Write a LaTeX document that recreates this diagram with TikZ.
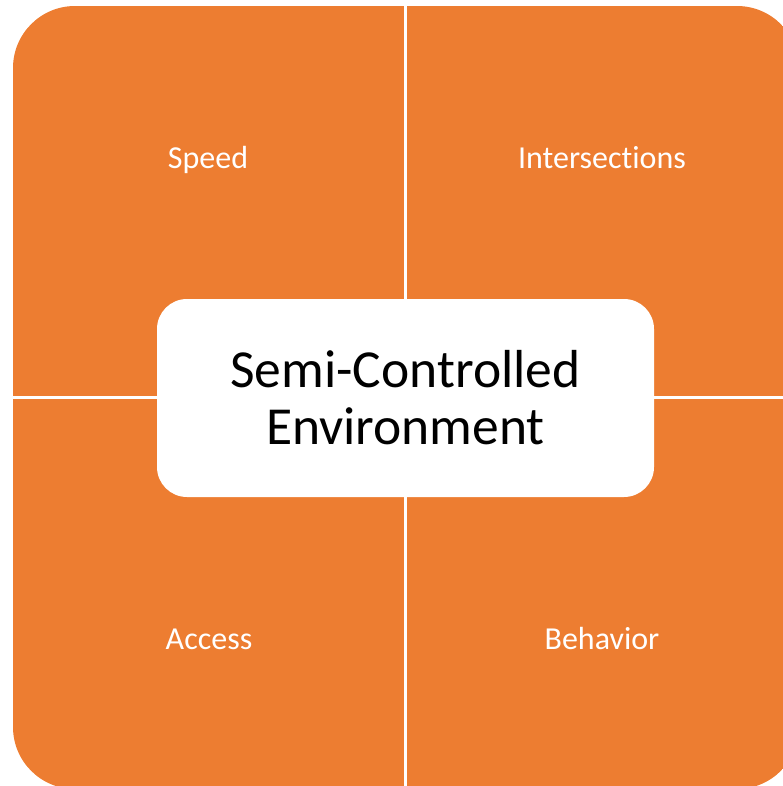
\documentclass[tikz,border=0pt]{standalone}
\usepackage{fontspec}
\setmainfont{Carlito}[Ligatures=NoCommon]
\usepackage{tikz}
\usetikzlibrary{positioning}

\definecolor{quadorange}{HTML}{ED7D31}

\tikzset{
  quadlabel/.style={text=white, font=\fontsize{32}{38}\selectfont, anchor=base},
  centerbox/.style={fill=white, rounded corners=30, minimum width=497, minimum height=198, inner sep=0pt, align=center, font=\fontsize{53.5}{57}\selectfont}
}

\begin{document}
\begin{tikzpicture}[x=1pt,y=-1pt]
\useasboundingbox (0,0) rectangle (783,786);
\clip (0,0) rectangle (783,786);
% the four quarters
\begin{scope}
\clip[rounded corners=62] (13,6) rectangle (799,789);
\fill[quadorange] (13,6) rectangle (404,396);
\fill[quadorange] (407,6) rectangle (799,396);
\fill[quadorange] (13,399) rectangle (404,789);
\fill[quadorange] (407,399) rectangle (799,789);
\end{scope}
\node[quadlabel] (speed) at (208,169) {Speed};
\node[quadlabel] (inter) at (602,169) {Intersections};
\node[quadlabel] (access) at (209,649) {Access};
\node[quadlabel] (behav) at (602,649) {Behavior};
% middle
\node[centerbox] (env) at (405.5,398) {Semi-Controlled\\Environment};
\end{tikzpicture}
\end{document}
